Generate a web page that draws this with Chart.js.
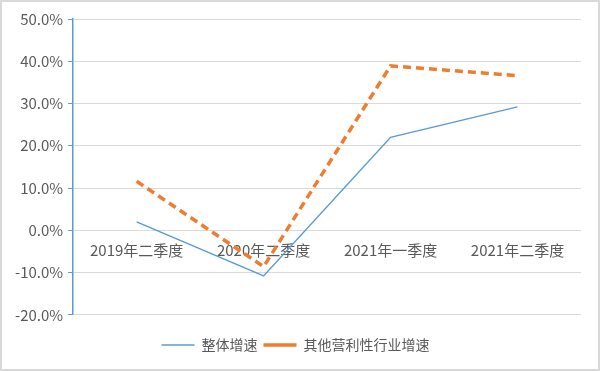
<!DOCTYPE html>
<html>
<head>
<meta charset="utf-8">
<script src="https://cdn.jsdelivr.net/npm/chart.js@4.4.1/dist/chart.umd.min.js"></script>
<style>
  html, body { margin: 0; padding: 0; background: #fff; }
  .frame {
    width: 600px; height: 371px; box-sizing: border-box;
    border: 2px solid #d9d9d9; position: relative;
  }
  .box { position: absolute; left: 0; top: 0; width: 596px; height: 367px; }
</style>
</head>
<body>
<div class="frame"><div class="box"><canvas id="growthChart"></canvas></div></div>
<script>
// 数据
const quarters = ['2019年二季度', '2020年二季度', '2021年一季度', '2021年二季度'];
const overallGrowth = [2.0, -10.8, 22.0, 29.2];
const otherProfitGrowth = [11.6, -8.6, 38.9, 36.6];
const seriesNames = ['整体增速', '其他营利性行业增速'];

const fontFamily = '"Noto Sans CJK SC", "Noto Sans", sans-serif';
const textColor = '#595959';

const ctx = document.getElementById('growthChart').getContext('2d');
const growthChart = new Chart(ctx, {
  type: 'line',
  data: {
    labels: quarters,
    datasets: [
      {
        label: seriesNames[0],
        data: overallGrowth,
        borderColor: 'rgb(91, 155, 213)',
        backgroundColor: 'rgb(91, 155, 213)',
        borderWidth: 1.5,
        pointRadius: 0,
        tension: 0
      },
      {
        label: seriesNames[1],
        data: otherProfitGrowth,
        borderColor: 'rgb(237, 125, 49)',
        backgroundColor: 'rgb(237, 125, 49)',
        borderWidth: 3.5,
        borderDash: [8, 5],
        pointRadius: 0,
        tension: 0
      }
    ]
  },
  options: {
    responsive: true,
    maintainAspectRatio: false,
    animation: false,
    layout: { padding: { left: 8, right: 17, top: 17, bottom: 7 } },
    scales: {
      x: {
        type: 'category',
        offset: true,
        position: { y: 0 },
        grid: { display: false },
        border: { display: false },
        ticks: {
          color: textColor,
          padding: 3,
          maxRotation: 0,
          font: { family: fontFamily, size: 15 }
        }
      },
      y: {
        min: -20,
        max: 50,
        ticks: {
          stepSize: 10,
          color: textColor,
          padding: 5,
          font: { family: fontFamily, size: 15 },
          callback: function(value) {
            return value.toFixed(1) + '%';
          }
        },
        grid: {
          color: '#d9d9d9',
          lineWidth: 1,
          tickLength: 5,
          tickColor: 'rgb(91, 155, 213)'
        },
        border: { color: 'rgb(91, 155, 213)', width: 1.5 }
      }
    },
    plugins: {
      legend: {
        position: 'bottom',
        // 空标题只用来拉开图例与绘图区的距离
        title: {
          display: true,
          text: ' ',
          font: { size: 1 },
          padding: { top: 16, bottom: 0 }
        },
        labels: {
          color: textColor,
          font: { family: fontFamily, size: 14 },
          usePointStyle: true,
          pointStyle: 'line',
          pointStyleWidth: 33,
          boxWidth: 33,
          boxHeight: 10,
          padding: 6
        }
      },
      tooltip: { enabled: false }
    }
  }
});
</script>
</body>
</html>
